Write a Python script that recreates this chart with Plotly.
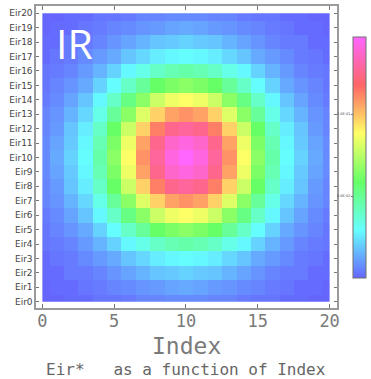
import plotly.graph_objects as go

# ---- data -------------------------------------------------------------
index_vals = list(range(21))                      # Index 0..20 (columns)
row_labels = [f"Eir{i}" for i in range(21)]       # Eir0..Eir20 (rows)
x_ticks = [0, 5, 10, 15, 20]

# Eir* intensity, one row per Eir channel (Eir0 first), one value per Index
eir = [
    [0.000, 0.000, 0.001, 0.001, 0.003, 0.003, 0.004, 0.006, 0.006, 0.007, 0.007, 0.007, 0.006, 0.006, 0.004, 0.003, 0.003, 0.001, 0.001, 0.000, 0.000],
    [0.000, 0.001, 0.001, 0.003, 0.004, 0.006, 0.007, 0.009, 0.010, 0.012, 0.013, 0.012, 0.010, 0.009, 0.007, 0.006, 0.004, 0.003, 0.001, 0.001, 0.000],
    [0.001, 0.001, 0.004, 0.004, 0.006, 0.009, 0.012, 0.015, 0.018, 0.019, 0.021, 0.019, 0.018, 0.015, 0.012, 0.009, 0.006, 0.004, 0.004, 0.001, 0.001],
    [0.001, 0.003, 0.004, 0.007, 0.010, 0.013, 0.018, 0.022, 0.026, 0.028, 0.029, 0.028, 0.026, 0.022, 0.018, 0.013, 0.010, 0.007, 0.004, 0.003, 0.001],
    [0.003, 0.004, 0.006, 0.010, 0.015, 0.021, 0.028, 0.034, 0.040, 0.044, 0.046, 0.044, 0.040, 0.034, 0.028, 0.021, 0.015, 0.010, 0.006, 0.004, 0.003],
    [0.003, 0.006, 0.009, 0.013, 0.021, 0.029, 0.040, 0.049, 0.059, 0.063, 0.066, 0.063, 0.059, 0.049, 0.040, 0.029, 0.021, 0.013, 0.009, 0.006, 0.003],
    [0.004, 0.007, 0.012, 0.018, 0.028, 0.040, 0.053, 0.066, 0.078, 0.085, 0.088, 0.085, 0.078, 0.066, 0.053, 0.040, 0.028, 0.018, 0.012, 0.007, 0.004],
    [0.006, 0.009, 0.015, 0.022, 0.034, 0.049, 0.066, 0.082, 0.097, 0.106, 0.109, 0.106, 0.097, 0.082, 0.066, 0.049, 0.034, 0.022, 0.015, 0.009, 0.006],
    [0.006, 0.010, 0.018, 0.026, 0.040, 0.059, 0.078, 0.097, 0.113, 0.125, 0.128, 0.125, 0.113, 0.097, 0.078, 0.059, 0.040, 0.026, 0.018, 0.010, 0.006],
    [0.007, 0.012, 0.019, 0.028, 0.044, 0.063, 0.085, 0.106, 0.125, 0.137, 0.141, 0.137, 0.125, 0.106, 0.085, 0.063, 0.044, 0.028, 0.019, 0.012, 0.007],
    [0.007, 0.013, 0.021, 0.029, 0.046, 0.066, 0.088, 0.109, 0.128, 0.141, 0.147, 0.141, 0.128, 0.109, 0.088, 0.066, 0.046, 0.029, 0.021, 0.013, 0.007],
    [0.007, 0.012, 0.019, 0.028, 0.044, 0.063, 0.085, 0.106, 0.125, 0.137, 0.141, 0.137, 0.125, 0.106, 0.085, 0.063, 0.044, 0.028, 0.019, 0.012, 0.007],
    [0.006, 0.010, 0.018, 0.026, 0.040, 0.059, 0.078, 0.097, 0.113, 0.125, 0.128, 0.125, 0.113, 0.097, 0.078, 0.059, 0.040, 0.026, 0.018, 0.010, 0.006],
    [0.006, 0.009, 0.015, 0.022, 0.034, 0.049, 0.066, 0.082, 0.097, 0.106, 0.109, 0.106, 0.097, 0.082, 0.066, 0.049, 0.034, 0.022, 0.015, 0.009, 0.006],
    [0.004, 0.007, 0.012, 0.018, 0.028, 0.040, 0.053, 0.066, 0.078, 0.085, 0.088, 0.085, 0.078, 0.066, 0.053, 0.040, 0.028, 0.018, 0.012, 0.007, 0.004],
    [0.003, 0.006, 0.009, 0.013, 0.021, 0.029, 0.040, 0.049, 0.059, 0.063, 0.066, 0.063, 0.059, 0.049, 0.040, 0.029, 0.021, 0.013, 0.009, 0.006, 0.003],
    [0.003, 0.004, 0.006, 0.010, 0.015, 0.021, 0.028, 0.034, 0.040, 0.044, 0.046, 0.044, 0.040, 0.034, 0.028, 0.021, 0.015, 0.010, 0.006, 0.004, 0.003],
    [0.001, 0.003, 0.004, 0.007, 0.010, 0.013, 0.018, 0.022, 0.026, 0.028, 0.029, 0.028, 0.026, 0.022, 0.018, 0.013, 0.010, 0.007, 0.004, 0.003, 0.001],
    [0.001, 0.001, 0.004, 0.004, 0.006, 0.009, 0.012, 0.015, 0.018, 0.019, 0.021, 0.019, 0.018, 0.015, 0.012, 0.009, 0.006, 0.004, 0.004, 0.001, 0.001],
    [0.000, 0.001, 0.001, 0.003, 0.004, 0.006, 0.007, 0.009, 0.010, 0.012, 0.013, 0.012, 0.010, 0.009, 0.007, 0.006, 0.004, 0.003, 0.001, 0.001, 0.000],
    [0.000, 0.000, 0.001, 0.001, 0.003, 0.003, 0.004, 0.006, 0.006, 0.007, 0.007, 0.007, 0.006, 0.006, 0.004, 0.003, 0.003, 0.001, 0.001, 0.000, 0.000],
]

z_range = [0.0, 0.147]
cbar_ticks = [0.05, 0.10]
cbar_ticktext = ["5.0E-02", "1.0E-01"]

# ---- layout geometry (pixels) ------------------------------------------
W, H = 371, 379


def fx(px):
    return px / W


def fy(py):
    return 1 - py / H


img_l, img_r, img_t, img_b = 42.7, 332.3, 13.3, 301.7      # heatmap area
frm_l, frm_r, frm_t, frm_b = 36.7, 339.3, 6.0, 307.7        # axis frame
cb_l, cb_r, cb_t, cb_b = 356.0, 368.5, 37.0, 278.0          # colour bar

ux = (img_r - img_l) / 20.0
uy = (img_b - img_t) / 20.0
frame_xrange = [-(img_l - frm_l) / ux, 20 + (frm_r - img_r) / ux]
frame_yrange = [-(frm_b - img_b) / uy, 20 + (img_t - frm_t) / uy]

colorscale = [
    [0.0, "#6666ff"],
    [0.2, "#66ffff"],
    [0.4, "#66ff66"],
    [0.6, "#ffff66"],
    [0.8, "#ff6666"],
    [1.0, "#ff66ff"],
]

fig = go.Figure()

fig.add_trace(go.Heatmap(
    x=index_vals, y=index_vals, z=eir,
    colorscale=colorscale, zmin=z_range[0], zmax=z_range[1],
    zsmooth=False, hoverinfo="skip",
    colorbar=dict(
        x=fx(cb_l), xanchor="left", xpad=0, ypad=0,
        y=fy((cb_t + cb_b) / 2), yanchor="middle",
        len=(cb_b - cb_t) / H, lenmode="fraction",
        thickness=cb_r - cb_l, thicknessmode="pixels",
        outlinecolor="#707070", outlinewidth=1,
        showticklabels=False, ticks="",
    ),
))

# frame axes carrying the tick marks and labels
fig.add_trace(go.Scatter(x=[], y=[], xaxis="x2", yaxis="y2",
                         showlegend=False, hoverinfo="skip"))
# scale next to the colour bar
fig.add_trace(go.Scatter(x=[], y=[], xaxis="x2", yaxis="y3",
                         showlegend=False, hoverinfo="skip"))

axis_grey = "#9a9a9a"
text_grey = "#7a7a7a"

fig.update_layout(
    width=W, height=H,
    margin=dict(l=0, r=0, t=0, b=0),
    paper_bgcolor="white",
    plot_bgcolor="rgba(0,0,0,0)",
    showlegend=False,
    xaxis=dict(domain=[fx(img_l), fx(img_r)], range=[0, 20],
               visible=False, anchor="y"),
    yaxis=dict(domain=[fy(img_b), fy(img_t)], range=[0, 20],
               visible=False, anchor="x"),
    xaxis2=dict(
        domain=[fx(frm_l), fx(frm_r)], range=frame_xrange, anchor="y2",
        tickmode="array", tickvals=x_ticks, ticktext=[str(v) for v in x_ticks],
        ticks="inside", ticklen=4, tickwidth=1, tickcolor="#777777",
        showline=True, linecolor=axis_grey, linewidth=2, mirror="ticks",
        showgrid=False, zeroline=False,
        tickfont=dict(family="DejaVu Sans Mono", size=17, color=text_grey),
        ticklabelstandoff=-3,
    ),
    yaxis2=dict(
        domain=[fy(frm_b), fy(frm_t)], range=frame_yrange, anchor="x2",
        tickmode="array", tickvals=index_vals, ticktext=row_labels,
        ticks="inside", ticklen=3, tickwidth=1, tickcolor="#777777",
        showline=True, linecolor=axis_grey, linewidth=2, mirror="ticks",
        showgrid=False, zeroline=False,
        tickfont=dict(family="DejaVu Sans", size=9, color="#444444"),
    ),
    yaxis3=dict(
        domain=[fy(cb_b), fy(cb_t)], range=z_range,
        anchor="free", position=fx(cb_l), side="left",
        tickmode="array", tickvals=cbar_ticks, ticktext=cbar_ticktext,
        ticks="outside", ticklen=2, tickwidth=1, tickcolor="#777777",
        showline=False, showgrid=False, zeroline=False,
        tickfont=dict(family="DejaVu Sans", size=3.5, color="#444444"),
    ),
    annotations=[
        dict(text="IR", xref="paper", yref="paper",
             x=fx(54), y=fy(43), xanchor="left", yanchor="middle",
             showarrow=False,
             font=dict(family="Open Sans", size=41, color="white")),
        dict(text="Index", xref="paper", yref="paper",
             x=fx(188), y=fy(346), xanchor="center", yanchor="middle",
             showarrow=False,
             font=dict(family="DejaVu Sans Mono", size=23, color=text_grey)),
        dict(text="Eir*   as a function of Index", xref="paper", yref="paper",
             x=fx(188), y=fy(369.3), xanchor="center", yanchor="middle",
             showarrow=False,
             font=dict(family="DejaVu Sans Mono", size=16, color="#666666")),
    ],
)

fig.write_html("out.html")
